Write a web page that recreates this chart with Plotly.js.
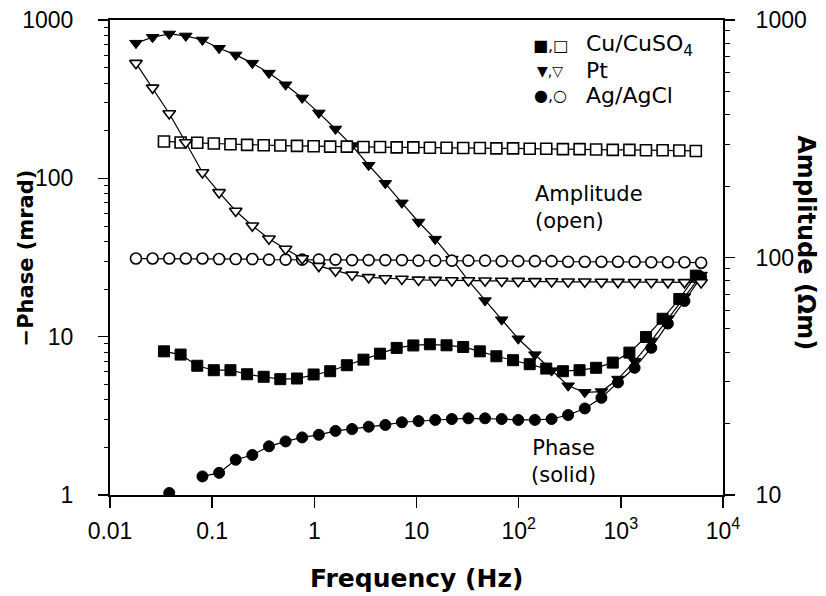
<!DOCTYPE html>
<html><head><meta charset="utf-8">
<script src="https://cdn.plot.ly/plotly-3.0.1.min.js"></script>
<style>body{margin:0;background:#fff}#chart{width:826px;height:596px}</style>
</head><body><div id="chart"></div>
<script>
// Frequencies (Hz) for Pt and Ag/AgCl series
const freqA = [0.01795, 0.02612, 0.0380, 0.05521, 0.08035, 0.1169, 0.1700, 0.2472, 0.3597, 0.5234, 0.7608, 1.107, 1.611, 2.340, 3.404, 4.954, 7.200, 10.47, 15.24, 22.18, 32.21, 46.88, 68.23, 99.1, 144.2, 209.9, 304.9, 443.6, 645.7, 937.6, 1365, 1986, 2888, 4198, 6109];
// Frequencies (Hz) for Cu/CuSO4 series
const freqB = [0.03373, 0.04909, 0.07145, 0.1038, 0.1510, 0.2198, 0.3192, 0.4645, 0.6761, 0.9840, 1.429, 2.080, 3.027, 4.395, 6.397, 9.311, 13.52, 19.68, 28.64, 41.69, 60.53, 88.10, 128.2, 186.2, 271.0, 394.5, 572.8, 833.7, 1213, 1762, 2564, 3733, 5420];

// -Phase (mrad)
const cuPhase = [8.08, 7.71, 6.55, 6.14, 6.14, 5.79, 5.58, 5.39, 5.44, 5.77, 6.05, 6.60, 7.16, 7.81, 8.49, 8.8, 8.95, 8.82, 8.61, 8.08, 7.52, 7.10, 6.70, 6.29, 6.05, 6.14, 6.36, 6.86, 7.93, 9.95, 12.97, 17.3, 24.3];
const ptPhase = [714, 778, 816, 793, 748, 663, 602, 534, 462, 390, 322, 259, 205, 161, 121, 93, 70, 53, 41.3, 30.9, 22.6, 16.9, 12.8, 9.7, 7.7, 6.1, 4.9, 4.45, 4.5, 5.4, 7.0, 9.4, 13.0, 17.9, 24.5];
const agPhase = [null, null, 1.03, null, 1.31, 1.38, 1.67, 1.79, 2.03, 2.18, 2.31, 2.40, 2.54, 2.61, 2.70, 2.77, 2.88, 2.93, 2.98, 3.02, 3.05, 3.05, 3.02, 2.98, 2.98, 3.02, 3.20, 3.52, 4.11, 5.14, 6.36, 8.5, 12.1, 16.8, 23.8];

// Amplitude (Ohm m)
const cuAmp = [308, 305, 304, 302, 300, 298, 297, 296, 295, 294, 293, 293, 292, 292, 291, 291, 290, 290, 289, 289, 288, 288, 287, 287, 286, 286, 285, 284, 284, 283, 283, 282, 281];
const ptAmp = [658, 518, 404, 305, 228, 188, 157, 136, 120, 108.6, 99, 92, 88, 84.5, 82.5, 81.6, 81.2, 80.5, 80.3, 80, 80, 79.8, 79.6, 79.5, 79.3, 79.2, 79, 79, 78.9, 78.8, 78.7, 78.7, 78.6, 78.6, 78.5];
const agAmp = [99, 99, 99, 99, 99, 98.5, 98.5, 98.5, 98, 98, 98, 98, 98, 97.5, 97.5, 97.5, 97.5, 97, 97, 97, 97, 97, 96.5, 96.5, 96.5, 96.5, 96, 96, 96, 96, 96, 95.5, 95.5, 95.5, 95];

const xTickVals = [0.01, 0.1, 1, 10, 100, 1000, 10000];
const xTickText = ['0.01', '0.1', '1', '10', '10<sup>2</sup>', '10<sup>3</sup>', '10<sup>4</sup>'];
const yTickVals = [1, 10, 100, 1000];
const yTickText = ['1', '10', '100', '1000'];
const y2TickVals = [10, 100, 1000];
const y2TickText = ['10', '100', '1000'];

const FONT = 'DejaVu Sans, Arial, sans-serif';
const TICKFONT = 'Liberation Sans, Arial, sans-serif';
const lineStyle = {color: 'black', width: 1.2};
function filled(sym) { return {symbol: sym, size: 11, color: 'black', line: {color: 'black', width: 1}}; }
function open(sym) { return {symbol: sym, size: 11, color: 'white', line: {color: 'black', width: 1.6}}; }

const traces = [
  {x: freqB, y: cuAmp, yaxis: 'y2', mode: 'lines+markers', line: lineStyle, marker: open('square')},
  {x: freqA, y: agAmp, yaxis: 'y2', mode: 'lines+markers', line: lineStyle, marker: open('circle')},
  {x: freqA, y: ptAmp, yaxis: 'y2', mode: 'lines+markers', line: lineStyle, marker: open('triangle-down')},
  {x: freqB, y: cuPhase, mode: 'lines+markers', line: lineStyle, marker: filled('square')},
  {x: freqA, y: agPhase, mode: 'lines+markers', connectgaps: false, line: lineStyle, marker: filled('circle')},
  {x: freqA, y: ptPhase, mode: 'lines+markers', line: lineStyle, marker: filled('triangle-down')}
];

const axisCommon = {
  showgrid: false, zeroline: false, showline: true, linecolor: 'black', linewidth: 2,
  ticks: 'outside', tickcolor: 'black', tickwidth: 1.5,
  tickfont: {family: TICKFONT, size: 23, color: 'black'}
};
const minorTicks = {tickmode: 'linear', dtick: 'D1', ticks: 'outside', ticklen: 4, tickcolor: 'black', tickwidth: 1, showgrid: false};

const layout = {
  width: 826, height: 596,
  margin: {l: 110, r: 103, t: 20, b: 101},
  paper_bgcolor: 'white', plot_bgcolor: 'white',
  showlegend: false,
  xaxis: Object.assign({}, axisCommon, {
    type: 'log', range: [-2, 4], tickmode: 'array', tickvals: xTickVals, ticktext: xTickText,
    ticklen: 11, mirror: true, ticklabelstandoff: 3
  }),
  yaxis: Object.assign({}, axisCommon, {
    type: 'log', range: [0, 3], tickmode: 'array', tickvals: yTickVals, ticktext: yTickText,
    ticklen: 10, ticklabelstandoff: 20, minor: minorTicks
  }),
  yaxis2: Object.assign({}, axisCommon, {
    type: 'log', range: [1, 3], overlaying: 'y', side: 'right', tickmode: 'array', tickvals: y2TickVals, ticktext: y2TickText,
    ticklen: 10, ticklabelstandoff: 16, minor: Object.assign({}, minorTicks, {ticklen: 5})
  }),
  annotations: [
    {xref: 'paper', yref: 'paper', x: -0.1372, y: 0.5, text: '\u2212Phase (mrad)', textangle: -90, showarrow: false,
     font: {family: FONT, size: 21, color: 'black', weight: 'bold'}, xanchor: 'center', yanchor: 'middle'},
    {xref: 'paper', yref: 'paper', x: 1.1354, y: 0.532, text: 'Amplitude (\u03A9m)', textangle: 90, showarrow: false,
     font: {family: FONT, size: 24, color: 'black', weight: 'bold'}, xanchor: 'center', yanchor: 'middle'},
    {xref: 'paper', yref: 'paper', x: 0.4992, y: -0.175, text: 'Frequency (Hz)', showarrow: false,
     font: {family: FONT, size: 25, color: 'black', weight: 'bold'}, xanchor: 'center', yanchor: 'middle'},
    {xref: 'paper', yref: 'paper', x: 0.690, y: 0.6048, text: 'Amplitude<br>(open)', align: 'left', showarrow: false,
     font: {family: FONT, size: 21, color: 'black'}, xanchor: 'left', yanchor: 'middle'},
    {xref: 'paper', yref: 'paper', x: 0.7406, y: 0.0702, text: 'Phase<br>(solid)', align: 'center', showarrow: false,
     font: {family: FONT, size: 21, color: 'black'}, xanchor: 'center', yanchor: 'middle'},
    {xref: 'paper', yref: 'paper', x: 0.7178, y: 0.9455, text: '\u25A0,\u25A1', showarrow: false,
     font: {family: FONT, size: 16, color: 'black'}, xanchor: 'center', yanchor: 'middle'},
    {xref: 'paper', yref: 'paper', x: 0.7178, y: 0.8931, text: '\u25BC,\u25BD', showarrow: false,
     font: {family: FONT, size: 14, color: 'black'}, xanchor: 'center', yanchor: 'middle'},
    {xref: 'paper', yref: 'paper', x: 0.7178, y: 0.8407, text: '\u25CF,\u25CB', showarrow: false,
     font: {family: FONT, size: 16, color: 'black'}, xanchor: 'center', yanchor: 'middle'},
    {xref: 'paper', yref: 'paper', x: 0.7732, y: 0.9455, text: 'Cu/CuSO<sub>4</sub>', showarrow: false,
     font: {family: FONT, size: 22, color: 'black'}, xanchor: 'left', yanchor: 'middle'},
    {xref: 'paper', yref: 'paper', x: 0.7732, y: 0.8931, text: 'Pt', showarrow: false,
     font: {family: FONT, size: 22, color: 'black'}, xanchor: 'left', yanchor: 'middle'},
    {xref: 'paper', yref: 'paper', x: 0.7732, y: 0.8407, text: 'Ag/AgCl', showarrow: false,
     font: {family: FONT, size: 22, color: 'black'}, xanchor: 'left', yanchor: 'middle'}
  ]
};

Plotly.newPlot('chart', traces, layout, {displayModeBar: false, staticPlot: true});
</script>
</body></html>
